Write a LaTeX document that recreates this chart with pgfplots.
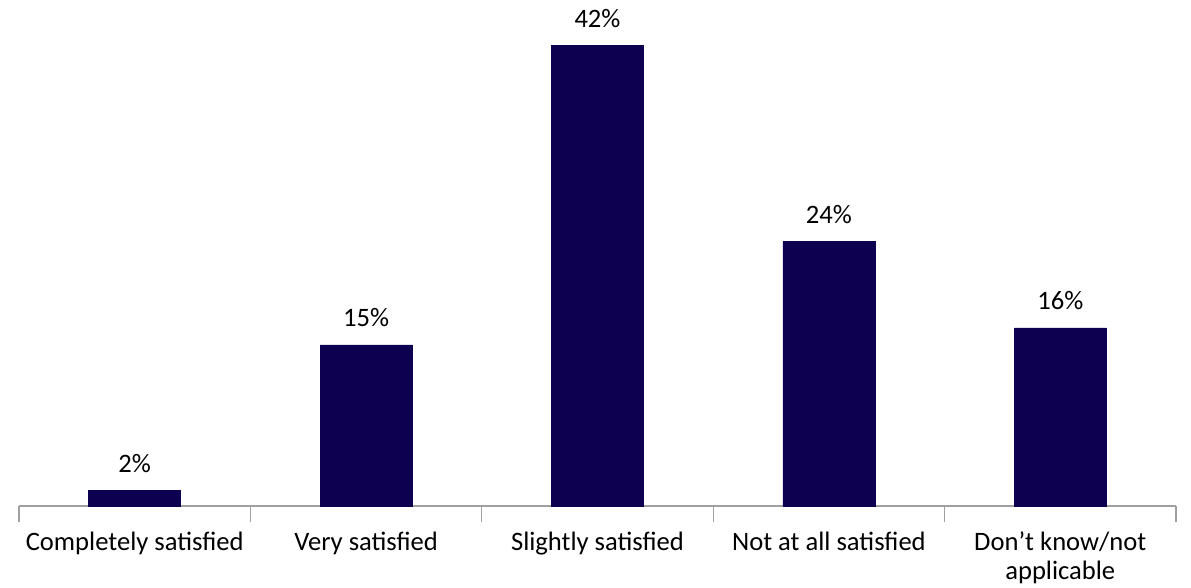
\documentclass[border=0pt]{standalone}
\usepackage{pgfplots}
\pgfplotsset{compat=1.18}
\usepackage{fontspec}
\setmainfont{Carlito}
\definecolor{barc}{HTML}{0D0050}
\definecolor{axc}{HTML}{A0A0A0}
\begin{document}
\begin{tikzpicture}
\useasboundingbox (0,0) rectangle (595.5pt,294pt);
\begin{axis}[
  at={(9.5pt,41pt)}, anchor=south west,
  scale only axis, width=578.5pt, height=252pt,
  xmin=-0.5, xmax=4.5, ymin=0, ymax=46,
  hide y axis,
  axis x line=bottom,
  x axis line style={-, draw=axc, line width=0.6pt},
  xtick={0,1,2,3,4},
  xticklabels={Completely satisfied, Very satisfied, Slightly satisfied, Not at all satisfied, {Don’t know/not\\applicable}},
  xticklabel style={font=\fontsize{13.3}{14.5}\selectfont, align=center, anchor=north, yshift=-12.6pt, inner sep=0pt},
  major tick length=0pt,
  extra x ticks={-0.5,0.5,1.5,2.5,3.5,4.5},
  extra x tick labels={},
  extra x tick style={major tick length=8pt, tick align=outside, tick style={draw=axc, line width=0.6pt}},
  /pgf/number format/assume math mode=true,
  ybar, bar width=46pt,
  point meta=explicit,
  nodes near coords={\pgfmathprintnumber[fixed,precision=0]{\pgfplotspointmeta}\%},
  nodes near coords style={font=\fontsize{13.3}{14.5}\selectfont, anchor=base, yshift=9pt, inner sep=0pt},
  clip=false,
]
\addplot[fill=barc, draw=barc] coordinates {(0,1.43) [2] (1,14.7) [15] (2,42) [42] (3,24.15) [24] (4,16.25) [16]};
\end{axis}
\end{tikzpicture}
\end{document}
